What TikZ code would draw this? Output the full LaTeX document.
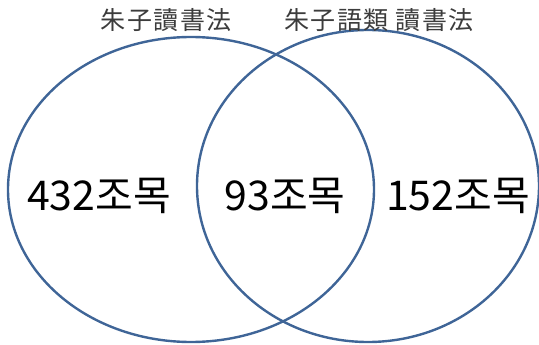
\documentclass[tikz,border=0pt]{standalone}
\usepackage{fontspec}
\newfontfamily\kr{Noto Sans CJK KR}
\newfontfamily\krtitle{Noto Sans CJK KR}[LetterSpace=6]
\begin{document}
\begin{tikzpicture}[x=1pt,y=-1pt,
  venn/.style={draw={rgb,255:red,63;green,101;blue,151}, line width=2.4pt},
  title/.style={font=\krtitle\fontsize{25}{28}\selectfont, text={rgb,255:red,60;green,60;blue,60}, inner sep=0pt},
  count/.style={font=\kr\fontsize{41}{46}\selectfont, text=black, inner sep=0pt}]
\useasboundingbox (0,0) rectangle (539,345);
\draw[venn] (191,189.5) ellipse [x radius=183, y radius=152.5];
\draw[venn] (368,186) ellipse [x radius=171, y radius=156];
\node[title] (t1) at (166,20) {朱子讀書法};
\node[title] (t2) at (379,20) {朱子語類 讀書法};
\node[count] (a) at (99,196) {432조목};
\node[count] (b) at (285,196) {93조목};
\node[count] (c) at (458,196) {152조목};
\end{tikzpicture}
\end{document}
